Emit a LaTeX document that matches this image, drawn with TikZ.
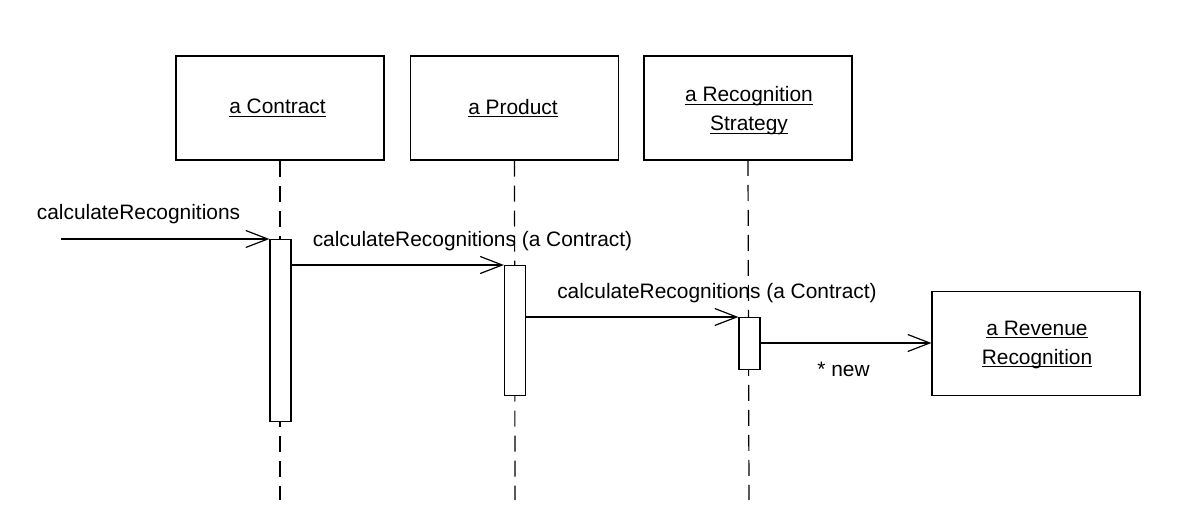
\documentclass[tikz,border=0pt]{standalone}
\usepackage{fontspec}
\setmainfont{Liberation Sans}
\usetikzlibrary{arrows.meta}
\newcommand\ulx[1]{\setbox0\hbox{#1}\rlap{\rule[-2.8pt]{\wd0}{1.1pt}}\box0}
\begin{document}
\begin{tikzpicture}[x=1pt,y=-1pt,
  every node/.style={font=\fontsize{20.9}{29}\selectfont, inner sep=0pt},
  obj/.style={draw, line width=1.2pt, minimum width=208pt, minimum height=104pt, align=center, fill=white},
  act/.style={draw, line width=1.2pt, fill=white, minimum width=21pt},
  life/.style={line width=1.2pt, dash pattern=on 16pt off 9pt},
  msg/.style={line width=1.2pt, -{Straight Barb[length=22pt,width=17pt,line width=1.2pt]}},
  lbl/.style={anchor=base}]
\useasboundingbox (0,0) rectangle (1200,518);
% objects
\node[obj] (c) at (280,108) {};
\node (ct) at (277.5,108) {\ulx{a Contract}};
\node[obj] (p) at (514.5,108) {};
\node (pt) at (513,108) {\ulx{a Product}};
\node[obj] (s) at (748,108) {};
\node[align=center] (st) at (749,111) {\ulx{a Recognition}\\\ulx{Strategy}};
\node[obj] (r) at (1036,343.5) {};
\node[align=center] (rt) at (1037,345) {\ulx{a Revenue}\\\ulx{Recognition}};
% lifelines
\coordinate (ce) at (280,500);
\coordinate (pe) at (515,500);
\coordinate (se) at (749,500);
\draw[life] (c.south) -- (ce);
\draw[life] (p.south) -- (pe);
\draw[life] (s.south |- 0,160) -- (se);
% activations
\node[act, minimum height=182pt, anchor=north] (ca) at (280.5,239) {};
\node[act, minimum height=130pt, anchor=north] (pa) at (515,265) {};
\node[act, minimum height=52pt, anchor=north] (sa) at (749.5,317) {};
% messages
\coordinate (start) at (61,239);
\draw[msg] (start) -- (ca.north west);
\node[lbl] at (138.5,219.5) {calculateRecognitions};
\draw[msg] (ca.east |- 0,265) -- (pa.north west);
\node[lbl] at (472.5,246.5) {calculateRecognitions (a Contract)};
\draw[msg] (pa.east |- 0,317) -- (sa.north west);
\node[lbl] at (717,298.5) {calculateRecognitions (a Contract)};
\draw[msg] (sa.east |- 0,343) -- (r.west |- 0,343);
\node[lbl] at (843.5,376.5) {* new};
\end{tikzpicture}
\end{document}
